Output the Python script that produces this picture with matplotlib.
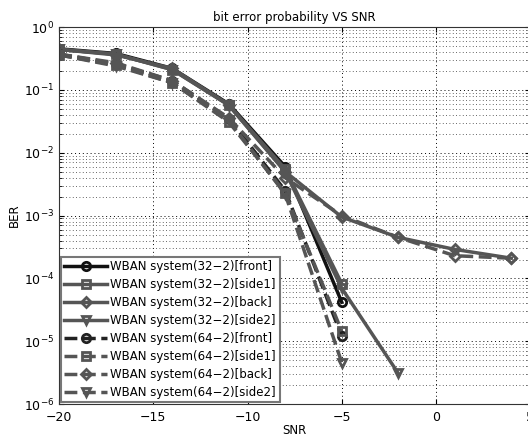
import numpy as np
from matplotlib import pyplot as plt
from matplotlib.ticker import LogLocator, NullFormatter

snr = [-20, -17, -14, -11, -8, -5, -2, 1, 4]

# 32-2 system
front32 = [0.45, 0.38, 0.22, 0.060, 0.0060, 4.2e-5]
side1_32 = [0.44, 0.37, 0.21, 0.058, 0.0055, 8.3e-5]
back32 = [0.44, 0.36, 0.22, 0.058, 0.0050, 9.5e-4, 4.5e-4, 2.9e-4, 2.1e-4]
side2_32 = [0.44, 0.37, 0.21, 0.057, 0.0050, 7.0e-5, 3.1e-6]

# 64-2 system
front64 = [0.37, 0.26, 0.14, 0.035, 0.0025, 1.2e-5]
side1_64 = [0.36, 0.25, 0.13, 0.031, 0.0023, 1.45e-5]
back64 = [0.37, 0.27, 0.14, 0.036, 0.0040, 1.0e-3, 4.5e-4, 2.3e-4, 2.1e-4]
side2_64 = [0.36, 0.24, 0.13, 0.033, 0.0022, 4.6e-6]

labels = ['WBAN system(32\u22122)[front]', 'WBAN system(32\u22122)[side1]',
          'WBAN system(32\u22122)[back]', 'WBAN system(32\u22122)[side2]',
          'WBAN system(64\u22122)[front]', 'WBAN system(64\u22122)[side1]',
          'WBAN system(64\u22122)[back]', 'WBAN system(64\u22122)[side2]']

series = [front32, side1_32, back32, side2_32, front64, side1_64, back64, side2_64]
markers = ['o', 's', 'D', 'v', 'o', 's', 'D', 'v']
colors = ['#111111', '#555555', '#555555', '#555555', '#222222', '#555555', '#555555', '#555555']

fig = plt.figure(figsize=(5.28, 4.36), dpi=100)
ax = fig.add_axes([0.112, 0.073, 0.892, 0.865])

for i, ys in enumerate(series):
    ls = '-' if i < 4 else '--'
    ms = 6 if markers[i] != 'D' else 5
    ax.semilogy(snr[:len(ys)], ys, ls, color=colors[i], marker=markers[i],
                markersize=ms, markerfacecolor='none', markeredgewidth=2,
                linewidth=2.5, label=labels[i])

ax.set_xlim(-20, 5)
ax.set_ylim(1e-6, 1)
ax.set_xticks([-20, -15, -10, -5, 0, 5])
ax.set_xticklabels(['\u221220', '\u221215', '\u221210', '\u22125', '0', '5'])
ax.yaxis.set_major_locator(LogLocator(base=10, numticks=10))
ax.yaxis.set_minor_locator(LogLocator(base=10, subs=np.arange(2, 10), numticks=20))
ax.yaxis.set_minor_formatter(NullFormatter())
ax.grid(True, which='major', linestyle=(0, (1, 3)), color='black', linewidth=0.7)
ax.grid(True, which='minor', axis='y', linestyle=(0, (1, 3)), color='#333333', linewidth=0.6)
ax.tick_params(which='both', direction='in', labelsize=9, top=True, right=True)
ax.tick_params(axis='x', pad=5)
for s in ax.spines.values():
    s.set_color('#333333')

ax.set_title('bit error probability VS SNR', fontsize=8.5, pad=4)
ax.set_xlabel('SNR', fontsize=8.5, labelpad=0)
ax.set_ylabel('BER', fontsize=8.5, labelpad=2)

leg = ax.legend(loc='lower left', fontsize=8.5, handlelength=3.6, handletextpad=0.3,
                labelspacing=0.42, borderaxespad=0.15, borderpad=0.3, fancybox=False,
                framealpha=1)
leg.get_frame().set_edgecolor('#777777')
leg.get_frame().set_linewidth(1.5)

fig.savefig('out.png', dpi=100)
